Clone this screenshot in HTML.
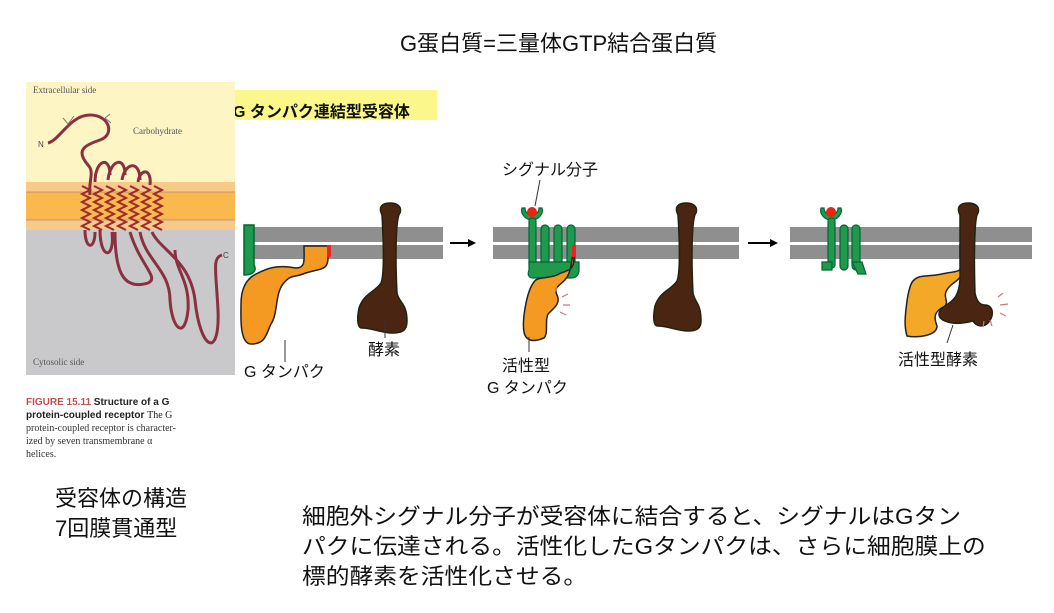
<!DOCTYPE html>
<html><head><meta charset="utf-8"><style>
body{margin:0;width:1054px;height:613px;background:#fff;position:relative;overflow:hidden;font-family:"Liberation Sans","Noto Sans CJK JP",sans-serif;color:#111}
.a{position:absolute;white-space:nowrap}
</style></head><body>
<div class="a" style="left:400px;top:26px;font-size:22px;">G蛋白質=三量体GTP結合蛋白質</div>
<div class="a" style="left:230px;top:90px;width:207px;height:30px;background:#fbf78a"></div>
<div class="a" style="left:233px;top:98px;font-size:16px;font-weight:bold;">G タンパク連結型受容体</div>

<svg class="a" style="left:0;top:0" width="1054" height="613">
<rect x="26" y="82" width="209" height="100" fill="#fdf6c4"/>
<rect x="26" y="182" width="209" height="48" fill="#f9c98a"/>
<rect x="26" y="192" width="209" height="28" fill="#f9b94c"/>
<line x1="26" y1="192" x2="235" y2="192" stroke="#a88" stroke-width="0.7"/>
<line x1="26" y1="220" x2="235" y2="220" stroke="#a88" stroke-width="0.7"/>
<rect x="26" y="230" width="209" height="145" fill="#c9c9cb"/>
<text x="33" y="93" font-size="9" fill="#555" font-family="Liberation Serif">Extracellular side</text>
<text x="133" y="134" font-size="9" fill="#555" font-family="Liberation Serif">Carbohydrate</text>
<text x="33" y="365" font-size="9" fill="#555" font-family="Liberation Serif">Cytosolic side</text>
<text x="38" y="147" font-size="8" fill="#444">N</text><text x="223" y="258" font-size="8" fill="#444">C</text>
<g fill="none" stroke="#8a3040" stroke-width="3" stroke-linejoin="round">
<path d="M48 143 C60 140,70 115,90 115 C110 115,115 135,100 140 C85 145,75 150,88 165 C95 172,88 182,90 195"/>
<path d="M95 182 C95 160,110 155,110 175 M108 180 C110 160,125 155,125 175 M122 180 C125 162,140 160,140 180 M138 182 C140 168,152 168,150 185"/>
<path d="M85 230 C85 250,95 250,95 232 M100 230 C100 260,115 260,112 232 M115 232 C115 275,125 290,148 283 C160 278,140 265,130 232 M140 232 C145 260,170 270,170 300 C172 330,185 340,188 310 C190 280,175 270,175 250 M152 232 C160 250,190 260,195 300 C200 350,220 360,218 310 C216 270,212 258,222 255"/>
</g>
<g stroke="#9a2a30" stroke-width="2" fill="none">
<path d="M82 186 l8 4 -8 4 8 4 -8 4 8 4 -8 4 8 4 -8 4 8 4 -8 4 8 4"/>
<path d="M94 186 l8 4 -8 4 8 4 -8 4 8 4 -8 4 8 4 -8 4 8 4 -8 4 8 4"/>
<path d="M106 186 l8 4 -8 4 8 4 -8 4 8 4 -8 4 8 4 -8 4 8 4 -8 4 8 4"/>
<path d="M118 186 l8 4 -8 4 8 4 -8 4 8 4 -8 4 8 4 -8 4 8 4 -8 4 8 4"/>
<path d="M130 186 l8 4 -8 4 8 4 -8 4 8 4 -8 4 8 4 -8 4 8 4 -8 4 8 4"/>
<path d="M142 186 l8 4 -8 4 8 4 -8 4 8 4 -8 4 8 4 -8 4 8 4 -8 4 8 4"/>
<path d="M154 186 l8 4 -8 4 8 4 -8 4 8 4 -8 4 8 4 -8 4 8 4 -8 4 8 4"/>
</g>
<path d="M63 118 l5 6 6-8 M105 118 l5-4 M105 118 l6 5" stroke="#777" fill="none"/>
<text x="26" y="405" font-size="10" font-family="Liberation Sans" font-weight="bold"><tspan fill="#c0504d">FIGURE 15.11</tspan><tspan fill="#222"> Structure of a G</tspan></text>
<text x="26" y="418" font-size="10" font-weight="bold" fill="#222">protein-coupled receptor <tspan font-weight="normal" font-family="Liberation Serif">The G</tspan></text>
<text x="26" y="431" font-size="10" fill="#333" font-family="Liberation Serif">protein-coupled receptor is character-</text>
<text x="26" y="444" font-size="10" fill="#333" font-family="Liberation Serif">ized by seven transmembrane α</text>
<text x="26" y="457" font-size="10" fill="#333" font-family="Liberation Serif">helices.</text>

<g fill="#8f8f8f">
<rect x="244" y="227" width="199" height="15"/><rect x="244" y="245" width="199" height="14"/>
<rect x="493" y="227" width="246" height="15"/><rect x="493" y="245" width="246" height="14"/>
<rect x="790" y="227" width="242" height="15"/><rect x="790" y="245" width="242" height="14"/>
</g>
<path d="M450 243 H470" stroke="#000" stroke-width="2"/><path d="M468 239 L476 243 L468 247Z"/>
<path d="M748 243 H772" stroke="#000" stroke-width="2"/><path d="M770 239 L778 243 L770 247Z"/>

<path d="M244 225 h10 v40 c3 5,0 10,-10 10Z" fill="#1f9a4c" stroke="#063" stroke-width="1.5"/>
<path d="M328 246 v12 c0 14,-10 10,-25 16 c-10 4,-12 0,-20 10 c-8 10,-5 30,-12 40 c-5 10,-5 20,-20 20 c-12 0,-10 -30,-10 -40 c0 -15,5 -25,15 -30 c10 -5,20 -10,40 -6 c10 0,8 -8,8 -22Z" fill="#f49a22" stroke="#222" stroke-width="1.5"/>
<rect x="327" y="245" width="4" height="12" fill="#e22"/>
<path d="M382 215 c-4 -8,0 -12,8 -12 c8 0,12 4,10 10 c-4 4,-5 40,-3 80 c2 10,10 10,10 28 c0 10,-5 12,-15 12 c-10 0,-20 -5,-30 -5 c-5 0,-5 -10,-3 -20 c5 -15,15 -15,22 -25 c4 -10,2 -50,1 -68Z" fill="#4a2512" stroke="#221" stroke-width="1.5"/>
<line x1="285" y1="340" x2="285" y2="362" stroke="#333"/>
<line x1="385" y1="318" x2="385" y2="338" stroke="#333"/>
<g fill="#1f9a4c" stroke="#063" stroke-width="1.2">
<path d="M522 208 c-2 6,4 12,10 12 c6 0,12 -6,10 -12 l-3 0 c0 4,-3 7,-7 7 c-4 0,-7 -3,-7 -7Z"/>
<rect x="529" y="218" width="7" height="50" rx="3"/>
<rect x="541" y="225" width="8" height="45" rx="4"/>
<rect x="554" y="225" width="8" height="45" rx="4"/>
<rect x="567" y="225" width="8" height="45" rx="4"/>
<path d="M529 262 h50 v8 c0 6,-4 8,-8 8 h-38 c-4 0,-6 -3,-4 -8Z"/>
</g>
<circle cx="532" cy="212" r="5" fill="#e21"/>
<line x1="535" y1="206" x2="540" y2="180" stroke="#333"/>
<path d="M574 246 v12 c0 14,-8 12,-15 16 c-8 5,-22 2,-25 8 c-8 10,-12 40,-10 50 c2 10,10 10,20 6 c5 -5,0 -20,5 -25 c5 -5,12 -10,8 -18 c-5 -10,8 -10,12 -22 c3 -8,2 -10,5 -25Z" fill="#f49a22" stroke="#222" stroke-width="1.5"/>
<rect x="572" y="245" width="4" height="12" fill="#e22"/>
<g stroke="#c77" stroke-width="1.2"><path d="M562 297 l6 -3 M563 305 l7 0 M560 312 l6 3 M555 292 l2 -5"/></g>
<line x1="529" y1="337" x2="529" y2="352" stroke="#333"/>
<path d="M678 215 c-4 -8,0 -12,8 -12 c8 0,12 4,10 10 c-4 4,-5 40,-3 80 c2 10,8 10,8 28 c0 8,-5 10,-13 10 c-10 0,-20 -5,-30 -5 c-5 0,-5 -10,-3 -20 c5 -15,15 -15,22 -25 c4 -10,2 -50,1 -66Z" fill="#4a2512" stroke="#221" stroke-width="1.5"/>
<g fill="#1f9a4c" stroke="#063" stroke-width="1.2">
<path d="M821 208 c-2 6,4 12,10 12 c6 0,12 -6,10 -12 l-3 0 c0 4,-3 7,-7 7 c-4 0,-7 -3,-7 -7Z"/>
<rect x="828" y="218" width="7" height="50" rx="3"/>
<rect x="840" y="225" width="8" height="45" rx="4"/>
<rect x="852" y="225" width="8" height="45" rx="4"/>
<path d="M822 262 l10 0 0 8 -10 0Z"/>
<path d="M852 262 l10 0 4 12 -8 0Z"/>
</g>
<circle cx="831" cy="212" r="5" fill="#e21"/>
<path d="M962 243 v18 c0 12,-5 10,-15 12 c-10 2,-10 2,-22 3 c-12 1,-15 5,-18 25 c-2 15,-3 25,0 35 c10 2,30 0,30 -10 c-4 -10,-2 -15,8 -20 c5 -5,-5 -10,5 -20 c5 -5,12 -6,14 -20Z" fill="#f4a828" stroke="#222" stroke-width="1.5"/>
<rect x="959" y="244" width="4" height="14" fill="#e22"/>
<path d="M960 215 c-4 -8,0 -12,8 -12 c8 0,12 4,10 10 c-4 4,-4 50,-3 80 c2 10,6 12,10 12 c8 0,10 10,3 18 c-5 5,-12 3,-15 -2 c-8 2,-20 4,-28 0 c-8 -3,-8 -10,0 -15 c8 -5,15 -10,15 -30 c0 -20,0 -50,0 -61Z" fill="#4a2512" stroke="#221" stroke-width="1.5"/>
<g stroke="#c77" stroke-width="1.2"><path d="M998 297 l5 -4 M1000 305 l8 -1 M1000 313 l6 3 M990 320 l2 6 M984 321 l-1 6"/></g>
<line x1="953" y1="325" x2="947" y2="343" stroke="#333"/>
</svg>

<div class="a" style="left:502px;top:156px;font-size:16px;">シグナル分子</div>
<div class="a" style="left:244px;top:358px;font-size:16px;">G タンパク</div>
<div class="a" style="left:368px;top:336px;font-size:16px;">酵素</div>
<div class="a" style="left:502px;top:352px;font-size:16px;">活性型</div>
<div class="a" style="left:487px;top:374px;font-size:16px;">G タンパク</div>
<div class="a" style="left:898px;top:346px;font-size:16px;">活性型酵素</div>

<div class="a" style="left:55px;top:484px;font-size:22px;line-height:30px;">受容体の構造<br>7回膜貫通型</div>
<div class="a" style="left:302px;top:502px;font-size:22px;line-height:30px;transform:scaleX(1.08);transform-origin:left top;">細胞外シグナル分子が受容体に結合すると、シグナルはGタン<br>パクに伝達される。活性化したGタンパクは、さらに細胞膜上の<br>標的酵素を活性化させる。</div>
</body></html>
